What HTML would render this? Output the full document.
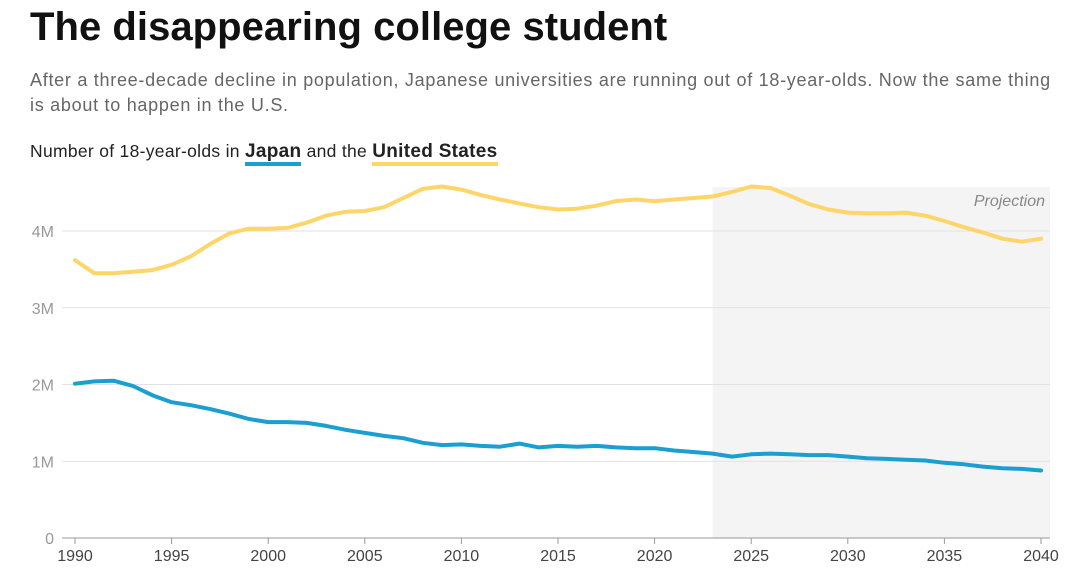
<!DOCTYPE html>
<html><head><meta charset="utf-8"><style>
body{margin:0;width:1080px;height:582px;background:#fff;font-family:"Liberation Sans",sans-serif;overflow:hidden;position:relative}
h1{position:absolute;left:30px;top:5px;margin:0;font-size:40px;font-weight:bold;color:#111;letter-spacing:0.05px}
.sub{position:absolute;left:30px;top:68px;width:1050px;font-size:18px;line-height:25px;color:#666;letter-spacing:0.72px;white-space:nowrap}
.lab{position:absolute;left:30px;top:141px;font-size:17.5px;color:#222;letter-spacing:0.3px}
.lab b{font-weight:bold;position:relative;font-size:19px}
.jp{border-bottom:4px solid #1a9fd0}
.us{border-bottom:4px solid #fdd568}
svg{position:absolute;left:0;top:0}
</style></head><body>
<h1>The disappearing college student</h1>
<div class="sub">After a three-decade decline in population, Japanese universities are running out of 18-year-olds. Now the same thing<br>is about to happen in the U.S.</div>
<div class="lab">Number of 18-year-olds in <b class="jp">Japan</b> and the <b class="us">United States</b></div>
<svg id="c" width="1080" height="582"></svg>
<script>
const years=[];for(let y=1990;y<=2040;y++)years.push(y);
const usValues=[3.62,3.45,3.45,3.47,3.49,3.56,3.67,3.83,3.97,4.03,4.03,4.04,4.11,4.20,4.25,4.26,4.31,4.43,4.55,4.58,4.54,4.47,4.41,4.36,4.31,4.28,4.29,4.33,4.39,4.41,4.39,4.41,4.43,4.45,4.51,4.58,4.56,4.46,4.35,4.28,4.24,4.23,4.23,4.24,4.20,4.13,4.05,3.98,3.90,3.86,3.90];
const japanValues=[2.01,2.04,2.05,1.98,1.86,1.77,1.73,1.68,1.62,1.55,1.51,1.51,1.50,1.46,1.41,1.37,1.33,1.30,1.24,1.21,1.22,1.20,1.19,1.23,1.18,1.20,1.19,1.20,1.18,1.17,1.17,1.14,1.12,1.10,1.06,1.09,1.10,1.09,1.08,1.08,1.06,1.04,1.03,1.02,1.01,0.98,0.96,0.93,0.91,0.90,0.88];
const yTicks=[0,1,2,3,4];
const yTickLabels=["0","1M","2M","3M","4M"];
const xTicks=[1990,1995,2000,2005,2010,2015,2020,2025,2030,2035,2040];
const projectionStart=2023;
const X=y=>75+(y-1990)*19.32, Y=v=>538-v*76.75;
const s=document.getElementById('c'),NS='http://www.w3.org/2000/svg';
function mk(t,a,txt){const e=document.createElementNS(NS,t);for(const k in a)e.setAttribute(k,a[k]);if(txt!=null)e.textContent=txt;s.appendChild(e);return e;}
let r=mk('rect',{x:X(projectionStart),y:187,width:1050-X(projectionStart),height:351,fill:'#f4f4f4'});


let pt=mk('text',{x:1045,y:206,'text-anchor':'end','font-size':16,'font-style':'italic',fill:'#888'},'Projection');


yTicks.forEach((v,i)=>{
 let l=mk('line',{x1:62,x2:1050,y1:Y(v),y2:Y(v),stroke:v===0?'#999':'#e2e2e2','stroke-width':1});
 
 
 let t=mk('text',{x:54,y:Y(v)+6,'text-anchor':'end','font-size':16,fill:'#999'},yTickLabels[i]);
 
 
});
xTicks.forEach(y=>{
 let l=mk('line',{x1:X(y),x2:X(y),y1:538,y2:544,stroke:'#999'});
 
 
 let t=mk('text',{x:X(y),y:561,'text-anchor':'middle','font-size':16,fill:'#444'},y);
 
 
});
function line(vals,color,name){
 const d=vals.map((v,i)=>(i?'L':'M')+X(years[i]).toFixed(1)+','+Y(v).toFixed(1)).join('');
 let p=mk('path',{d:d,fill:'none',stroke:color,'stroke-width':4,'stroke-linejoin':'round','stroke-linecap':'round'});
 
 
}
line(usValues,'#fdd568','us-line');
line(japanValues,'#1a9fd0','japan-line');
</script>
</body></html>
